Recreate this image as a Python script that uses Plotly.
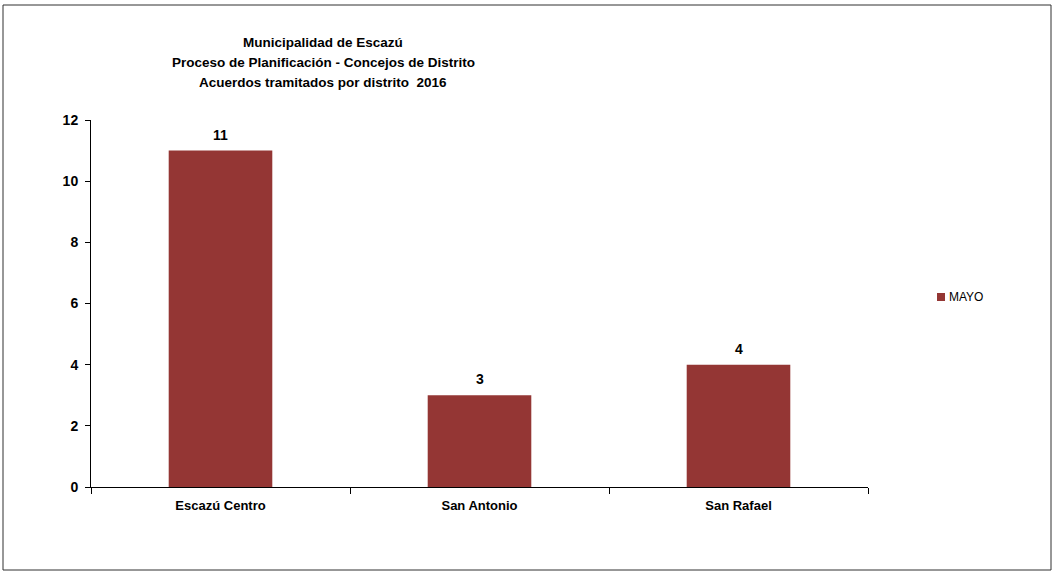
import plotly.graph_objects as go

categories = ["Escazú Centro", "San Antonio", "San Rafael"]
mayo = [11, 3, 4]
series_name = "MAYO"
title_lines = ["Municipalidad de Escazú",
               "Proceso de Planificación - Concejos de Distrito",
               "Acuerdos tramitados por distrito  2016"]

FONT = "Liberation Sans Narrow, Arial Narrow, Liberation Sans, Arial"
BAR = "#943634"

fig = go.Figure()
fig.add_trace(go.Bar(
    x=categories, y=mayo, name=series_name,
    marker=dict(color=BAR, line=dict(width=0)),
    width=0.4, showlegend=False,
))

for c, v in zip(categories, mayo):
    fig.add_annotation(x=c, y=v, text=str(v), showarrow=False, yshift=16,
                       xanchor="center", yanchor="middle",
                       font=dict(family=FONT, size=14, color="black", weight="bold"))

W, H = 1059, 572
L, R, T, B = 91, 868, 120, 487
pw, ph = R - L, B - T

def px(x):
    return (x - L) / pw

def py(y):
    return (B - y) / ph

fig.update_layout(
    width=W, height=H,
    margin=dict(l=L, r=W - R, t=T, b=H - B),
    paper_bgcolor="white", plot_bgcolor="white",
    font=dict(family=FONT, color="black"),
    showlegend=False,
    xaxis=dict(showline=True, linecolor="black", linewidth=1,
               ticks="outside", tickson="boundaries", ticklen=6, tickcolor="black",
               ticklabelstandoff=6,
               tickfont=dict(family=FONT, size=13, color="black", weight="bold"),
               showgrid=False),
    yaxis=dict(range=[0, 12], dtick=2, showline=True, linecolor="black", linewidth=1,
               ticks="outside", ticklen=5, tickcolor="black",
               ticklabelstandoff=4,
               tickfont=dict(family=FONT, size=14, color="black", weight="bold"),
               showgrid=False, zeroline=False),
    shapes=[dict(type="rect", xref="paper", yref="paper",
                 x0=px(3), x1=px(1051), y0=py(570), y1=py(5),
                 line=dict(color="#303030", width=1), fillcolor="rgba(0,0,0,0)", layer="below"),
            # legend key
            dict(type="rect", xref="paper", yref="paper",
                 x0=px(937), x1=px(945), y0=py(301), y1=py(293),
                 line=dict(width=0), fillcolor=BAR)],
)

ys = [43, 62, 82]
for line, yy in zip(title_lines, ys):
    fig.add_annotation(text=line, xref="paper", yref="paper", x=px(323), y=py(yy),
                       xanchor="center", yanchor="middle", showarrow=False,
                       font=dict(family=FONT, size=13.5, color="black", weight="bold"))

fig.add_annotation(text=series_name, xref="paper", yref="paper", x=px(947), y=py(297),
                   xanchor="left", yanchor="middle", showarrow=False,
                   font=dict(family="Liberation Sans, Arial", size=12, color="black"))

fig.write_html("out.html", config={"displayModeBar": False},
               post_script="document.body.style.margin='0';document.body.style.overflow='hidden';")
